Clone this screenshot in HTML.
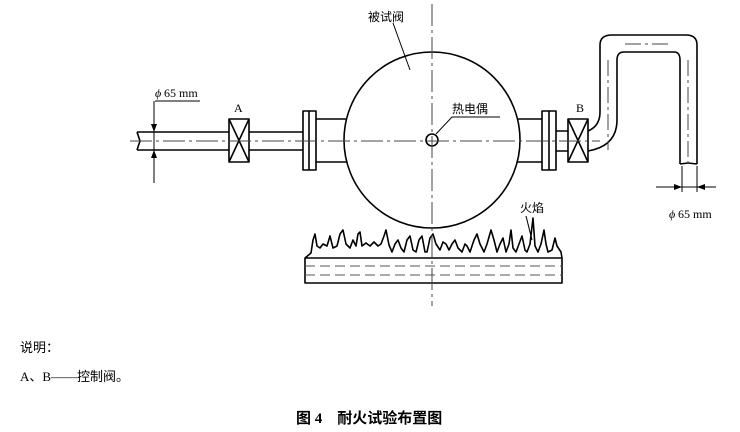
<!DOCTYPE html>
<html><head><meta charset="utf-8"><style>
body{margin:0;background:#fff;width:740px;height:432px;overflow:hidden;font-family:"Liberation Serif","Noto Serif CJK SC",serif}
svg{position:absolute;left:0;top:0}
.t{font-family:"Liberation Serif","Noto Sans CJK SC",sans-serif;fill:#000}
</style></head><body>
<svg width="740" height="432" viewBox="0 0 740 432">
<defs><marker id="ar" markerWidth="8" markerHeight="6" refX="8" refY="3" orient="auto"><path d="M0,0 L8,3 L0,6z" fill="#000"/></marker></defs>
<g stroke="#000" fill="none" stroke-width="1.6" stroke-linejoin="round">
<!-- circle -->
<circle cx="432" cy="140" r="88" fill="#fff"/>
<!-- left pipe -->
<path d="M137,132 L229,132 M137,150 L229,150 M137,132 l3,9 l-3,9"/>
<rect x="229" y="119" width="20" height="43"/>
<path d="M229,119 L249,162 M249,119 L229,162"/>
<path d="M249,132 L303,132 M249,150 L303,150"/>
<rect x="303" y="111" width="13" height="59"/>
<path d="M309,111 V170"/>
<path d="M316,119 H347 M316,162 H347"/>
<!-- right -->
<path d="M517,119 H542 M517,162 H542"/>
<rect x="542" y="111" width="14" height="59"/>
<path d="M549,111 V170"/>
<path d="M556,131 H568 M556,151 H568"/>
<rect x="568" y="119" width="20" height="43"/>
<path d="M568,119 L588,162 M588,119 L568,162"/>
<path d="M588,131 Q600,126 600,112 V45 Q600,35 612,35 H686 Q697,35 697,45 V164"/>
<path d="M588,151 Q617,146 617,120 V60 Q617,52 624,52 H674 Q680,52 680,60 V164"/>
<path d="M680,164 l8,-1 l9,1"/>
<!-- small circle -->
<circle cx="432" cy="140" r="6" fill="#fff"/>
<!-- burner -->
<path d="M305,283 V258 H562 V283 Z"/>
<path d="M305,258 L311,253 L313,240 L315,234 L317,246 L320,248 L323,244 L327,246 L330,236 L333,248 L337,246 L340,234 L343,230 L346,244 L350,248 L353,240 L356,246 L358,234 L360,232 L362,246 L366,243 L370,246 L374,242 L378,246 L381,244 L384,236 L386,230 L389,245 L392,252 L395,244 L398,240 L401,248 L404,252 L407,240 L410,236 L413,250 L416,252 L419,240 L422,236 L425,252 L427,252 L430,238 L433,234 L436,244 L440,250 L443,242 L446,244 L449,250 L452,244 L455,240 L458,248 L462,252 L465,244 L467,246 L470,252 L474,240 L477,234 L480,244 L484,252 L487,244 L491,230 L494,240 L497,252 L500,244 L503,238 L506,252 L509,244 L511,230 L513,248 L516,252 L519,244 L522,236 L525,250 L527,252 L530,244 L533,218 L535,246 L538,252 L541,244 L544,230 L546,244 L548,252 L552,250 L555,238 L557,246 L561,252 L562,258"/>
</g>
<g stroke="#555" stroke-width="1" stroke-dasharray="10,5">
<path d="M305,266 H562 M305,275 H562"/>
</g>
<g stroke="#444" stroke-width="1" fill="none">
<path d="M432,4 V306" stroke-dasharray="22,4,3,4"/>
<path d="M130,141 H600" stroke-dasharray="22,4,3,4"/>
<path d="M608,60 V150 M625,44 H672 M688,60 V164" stroke-dasharray="16,4,3,4"/>
</g>
<g stroke="#000" stroke-width="1" fill="none">
<path d="M410,70 L393,23"/>
<path d="M436,134 L452,117 H500"/>
<path d="M155,101 H200 M154,101 V183"/>
<path d="M154,118 V132" marker-end="url(#ar)"/>
<path d="M154,166 V150" marker-end="url(#ar)"/>
<path d="M532,240 L526,216"/>
<path d="M682,166 V192 M697,166 V192 M656,187 H716"/>
<path d="M662,187 H682" marker-end="url(#ar)"/>
<path d="M716,187 H697" marker-end="url(#ar)"/>
</g>
<g class="t">
<text x="368" y="21" font-size="12">被试阀</text>
<text x="452" y="113" font-size="12">热电偶</text>
<text x="234" y="112" font-size="12">A</text>
<text x="576" y="112" font-size="12">B</text>
<text x="155" y="97" font-size="12" font-style="italic">ϕ</text><text x="164" y="97" font-size="12">65 mm</text>
<text x="520" y="212" font-size="12">火焰</text>
<text x="669" y="218" font-size="12" font-style="italic">ϕ</text><text x="678" y="218" font-size="12">65 mm</text>
<text x="20" y="352" font-size="13">说明：</text>
<text x="20" y="381" font-size="13">A、B——控制阀。</text>
<text x="296" y="423" font-size="15" font-weight="bold">图 4　耐火试验布置图</text>
</g>
</svg>
</body></html>
